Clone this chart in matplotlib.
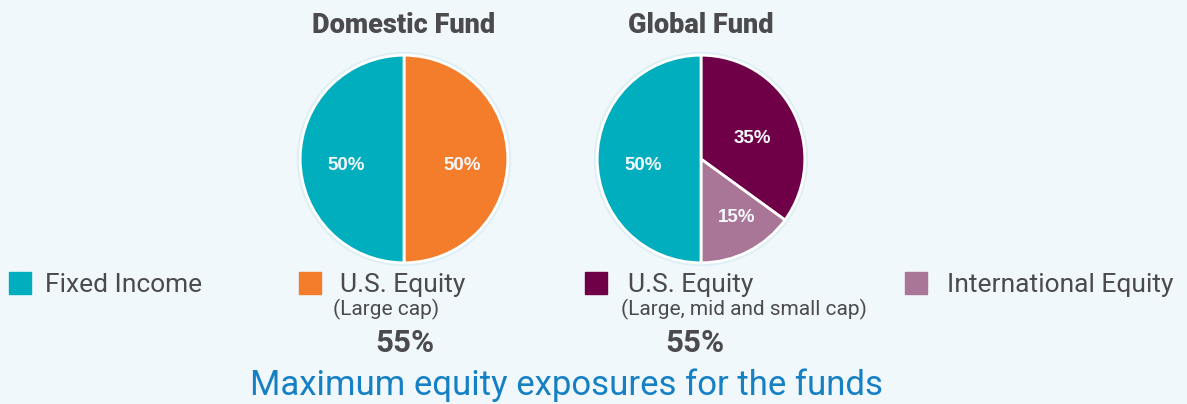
import matplotlib.pyplot as plt
from matplotlib.patches import Circle, Rectangle

W, H = 1187, 404
BG = "#f1f8fc"

# fund allocations, in percent
domestic_labels = ["U.S. Equity (Large cap)", "Fixed Income"]
domestic_values = [50, 50]
global_labels = ["U.S. Equity (Large, mid and small cap)", "International Equity", "Fixed Income"]
global_values = [35, 15, 50]

legend_names = ["Fixed Income", "U.S. Equity", "U.S. Equity", "International Equity"]
legend_notes = ["", "(Large cap)", "(Large, mid and small cap)", ""]
max_equity = ["", "55%", "55%", ""]

c_fixed = "#00aebd"
c_us_large = "#f47d2b"
c_us_all = "#6f0048"
c_intl = "#a97697"

NARROW = ["Roboto", "DejaVu Sans"]
GREY = "#4b4b4d"

fig = plt.figure(figsize=(W / 100, H / 100), dpi=100)
fig.patch.set_facecolor(BG)


def px_axes(cx, cy, r):
    # axes square around a pie centre given in pixels from the top-left
    return fig.add_axes([(cx - r) / W, (H - cy - r) / H, 2 * r / W, 2 * r / H])


def draw_pie(ax, values, colors, title):
    ax.add_patch(Circle((0, 0), 1.025, color="#ddeff4", zorder=0))
    wedges, texts, autotexts = ax.pie(
        values, colors=colors, startangle=90, counterclock=False,
        autopct="%d%%", pctdistance=0.56,
        wedgeprops=dict(edgecolor="white", linewidth=2),
        textprops=dict(color="#f4f8fb", fontsize=13.5, fontweight="bold",
                       family=["Liberation Sans", "DejaVu Sans"]))
    # labels sit slightly below the wedge centroid
    for t in autotexts:
        x, y = t.get_position()
        t.set_position((x, y - 0.06))
    ax.set_xlim(-1.05, 1.05)
    ax.set_ylim(-1.05, 1.05)
    ax.set_aspect("equal")
    ax.axis("off")
    ax.set_title(title, fontsize=19.5, fontweight="black", color=GREY,
                 family=NARROW, pad=12)
    return autotexts


ax1 = px_axes(404, 159, 109)
draw_pie(ax1, domestic_values, [c_us_large, c_fixed], "Domestic Fund")

ax2 = px_axes(701, 159, 109)
at = draw_pie(ax2, global_values, [c_us_all, c_intl, c_fixed], "Global Fund")
x, y = at[1].get_position()
at[1].set_position((x * 1.35, y))

# legend row
sq_x = [9, 299, 585, 905]
txt_x = [45, 340, 628, 947]
note_x = [0, 333, 621, 0]
pct_x = [0, 405, 695, 0]
colors = [c_fixed, c_us_large, c_us_all, c_intl]
for i in range(4):
    fig.patches.append(Rectangle((sq_x[i] / W, (H - 294) / H), 22 / W, 22 / H,
                                 transform=fig.transFigure, color=colors[i]))
    fig.text(txt_x[i] / W, (H - 285) / H, legend_names[i], fontsize=19,
             color=GREY, family=NARROW, va="center", ha="left")
    if legend_notes[i]:
        fig.text(note_x[i] / W, (H - 309) / H, legend_notes[i], fontsize=15,
                 color=GREY, family=NARROW, va="center", ha="left")
    if max_equity[i]:
        fig.text(pct_x[i] / W, (H - 343) / H, max_equity[i], fontsize=22.5,
                 color=GREY, family=NARROW,
                 fontweight="bold", va="center", ha="center")

fig.text(566 / W, (H - 385) / H, "Maximum equity exposures for the funds",
         fontsize=25, color="#1680c4", family=NARROW, va="center", ha="center")

fig.savefig("out.png", dpi=100, facecolor=BG)
